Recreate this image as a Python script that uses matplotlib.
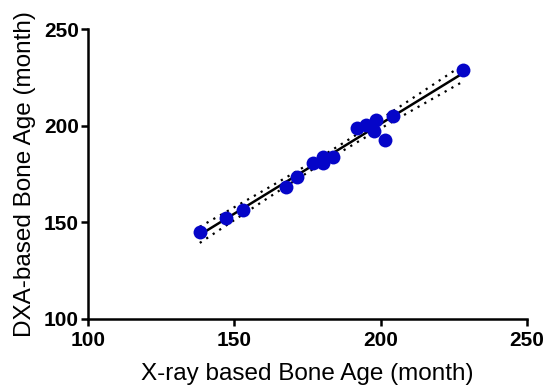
import numpy as np
import matplotlib
matplotlib.use("Agg")
import matplotlib.pyplot as plt

# X-ray vs DXA bone age (months)
xray_age = [138.2, 147.0, 152.9, 167.8, 171.3, 176.8, 180.2, 180.2, 183.9,
            192.1, 195.2, 198.3, 197.9, 201.4, 204.1, 228.3]
dxa_age = [145.0, 152.3, 156.4, 168.3, 173.5, 180.7, 183.8, 180.7, 183.8,
           198.8, 200.4, 203.0, 197.3, 192.6, 205.1, 228.8]
ticks = [100, 150, 200, 250]

plt.rcParams["font.family"] = ["Liberation Sans", "DejaVu Sans"]

x = np.array(xray_age)
y = np.array(dxa_age)
n = len(x)

# linear fit with 95% confidence band
slope, intercept = np.polyfit(x, y, 1)
xs = np.linspace(x.min(), x.max(), 100)
fit = slope * xs + intercept
resid = y - (slope * x + intercept)
s = np.sqrt(np.sum(resid ** 2) / (n - 2))
t_crit = 2.145  # t(0.975, df=14)
se = s * np.sqrt(1 / n + (xs - x.mean()) ** 2 / np.sum((x - x.mean()) ** 2))

fig = plt.figure(figsize=(5.47, 3.87), dpi=100)
ax = fig.add_axes([0.161, 0.176, 0.802, 0.749])

ax.plot(xs, fit, color="black", lw=1.8, zorder=2)
ax.plot(xs, fit + t_crit * se, color="black", lw=1.6, ls=(0, (1, 2.5)), zorder=2)
ax.plot(xs, fit - t_crit * se, color="black", lw=1.6, ls=(0, (1, 2.5)), zorder=2)
ax.plot(x, y, "o", color="#0505c8", markersize=10, markeredgewidth=0, zorder=3)

ax.set_xlim(100, 250)
ax.set_ylim(100, 250)
ax.set_xticks(ticks)
ax.set_yticks(ticks)
for side in ("top", "right"):
    ax.spines[side].set_visible(False)
for side in ("left", "bottom"):
    ax.spines[side].set_linewidth(1.8)
ax.tick_params(width=1.8, length=5, labelsize=15)
ax.tick_params(axis="x", pad=4)
ax.tick_params(axis="y", pad=1.5)
for lab in ax.get_xticklabels() + ax.get_yticklabels():
    lab.set_fontweight("bold")

ax.set_xlabel("X-ray based Bone Age (month)", fontsize=17.5, labelpad=9)
ax.set_ylabel("DXA-based Bone Age (month)", fontsize=17.5, labelpad=6)

fig.savefig("out.png", dpi=100)
